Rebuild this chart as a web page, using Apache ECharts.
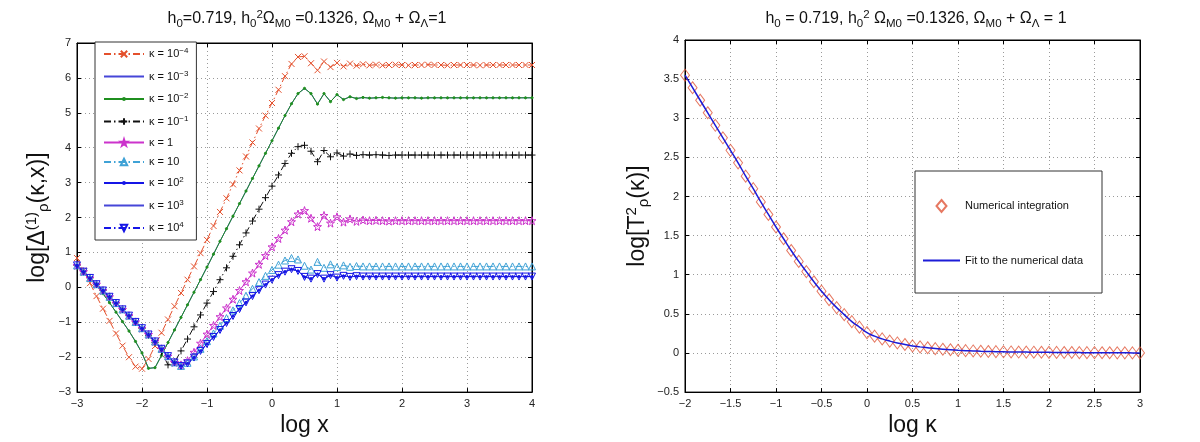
<!DOCTYPE html>
<html>
<head>
<meta charset="utf-8">
<script src="https://cdn.jsdelivr.net/npm/echarts@6/dist/echarts.min.js"></script>
<style>html,body{margin:0;padding:0;background:#fff}#c{width:1200px;height:442px}</style>
</head>
<body>
<div id="c"></div>
<script>
// ---------- DATA ----------
const logX = [-3.0,-2.9,-2.8,-2.7,-2.6,-2.5,-2.4,-2.3,-2.2,-2.1,
 -2.0,-1.9,-1.8,-1.7,-1.6,-1.5,-1.4,-1.3,-1.2,-1.1,
 -1.0,-0.9,-0.8,-0.7,-0.6,-0.5,-0.4,-0.3,-0.2,-0.1,
 0.0,0.1,0.2,0.3,0.4,0.5,0.6,0.7,0.8,0.9,
 1.0,1.1,1.2,1.3,1.4,1.5,1.6,1.7,1.8,1.9,
 2.0,2.1,2.2,2.3,2.4,2.5,2.6,2.7,2.8,2.9,
 3.0,3.1,3.2,3.3,3.4,3.5,3.6,3.7,3.8,3.9,
 4.0];
const kNames = ['κ = 10^−4','κ = 10^−3','κ = 10^−2','κ = 10^−1','κ = 1','κ = 10','κ = 10^2','κ = 10^3','κ = 10^4'];
// kappa = 1e-4
const dK4 = [0.84,0.48,0.12,-0.25,-0.61,-0.96,-1.32,-1.67,-2.00,-2.27,
 -2.33,-2.05,-1.68,-1.30,-0.92,-0.54,-0.16,0.22,0.60,0.98,
 1.36,1.76,2.16,2.55,2.95,3.35,3.75,4.15,4.55,4.92,
 5.28,5.66,6.05,6.40,6.60,6.62,6.42,6.22,6.47,6.31,
 6.43,6.33,6.41,6.35,6.39,6.36,6.38,6.36,6.37,6.38,
 6.37,6.36,6.37,6.37,6.38,6.37,6.37,6.36,6.37,6.37,
 6.37,6.37,6.36,6.37,6.37,6.37,6.37,6.37,6.37,6.37,
 6.37];
// kappa = 1e-2 (1e-3 lies underneath it)
const dK2 = [0.63,0.45,0.26,0.06,-0.18,-0.44,-0.71,-0.98,-1.25,-1.55,
 -1.88,-2.32,-2.30,-1.95,-1.58,-1.22,-0.86,-0.50,-0.14,0.22,
 0.58,0.95,1.32,1.68,2.04,2.40,2.76,3.12,3.48,3.84,
 4.20,4.56,4.92,5.26,5.55,5.70,5.55,5.25,5.55,5.32,
 5.52,5.38,5.46,5.41,5.44,5.42,5.43,5.44,5.43,5.42,
 5.43,5.43,5.43,5.42,5.43,5.43,5.43,5.43,5.43,5.43,
 5.43,5.43,5.43,5.43,5.43,5.43,5.43,5.43,5.43,5.43,
 5.43];
// kappa = 1e-1
const dK1 = [0.63,0.45,0.27,0.09,-0.09,-0.27,-0.45,-0.63,-0.81,-0.99,
 -1.18,-1.37,-1.58,-1.85,-2.22,-2.15,-1.82,-1.48,-1.13,-0.79,
 -0.45,-0.12,0.22,0.56,0.89,1.22,1.56,1.90,2.24,2.57,
 2.90,3.22,3.55,3.84,4.03,4.07,3.90,3.60,3.92,3.74,
 3.85,3.76,3.82,3.78,3.80,3.79,3.80,3.79,3.78,3.79,
 3.79,3.79,3.79,3.79,3.79,3.79,3.79,3.79,3.79,3.79,
 3.79,3.79,3.79,3.79,3.79,3.79,3.79,3.79,3.79,3.79,
 3.79];
// kappa = 1
const dK0 = [0.63,0.45,0.27,0.09,-0.09,-0.27,-0.45,-0.63,-0.81,-0.99,
 -1.17,-1.35,-1.55,-1.76,-1.97,-2.15,-2.22,-2.10,-1.86,-1.60,
 -1.34,-1.09,-0.84,-0.59,-0.34,-0.09,0.16,0.41,0.66,0.91,
 1.16,1.40,1.64,1.88,2.10,2.20,1.98,1.74,2.06,1.84,
 2.02,1.87,1.96,1.89,1.93,1.91,1.92,1.91,1.90,1.91,
 1.91,1.91,1.91,1.91,1.91,1.91,1.91,1.91,1.91,1.91,
 1.91,1.91,1.91,1.91,1.91,1.91,1.91,1.91,1.91,1.91,
 1.91];
// kappa = 10
const dK10 = [0.63,0.45,0.27,0.09,-0.09,-0.27,-0.45,-0.63,-0.81,-0.99,
 -1.17,-1.35,-1.55,-1.76,-1.97,-2.15,-2.25,-2.16,-1.98,-1.76,
 -1.54,-1.32,-1.10,-0.88,-0.66,-0.45,-0.24,-0.04,0.15,0.33,
 0.50,0.65,0.77,0.84,0.80,0.62,0.51,0.73,0.56,0.66,
 0.58,0.63,0.59,0.61,0.60,0.60,0.60,0.60,0.60,0.60,
 0.60,0.60,0.60,0.60,0.60,0.60,0.60,0.60,0.60,0.60,
 0.60,0.60,0.60,0.60,0.60,0.60,0.60,0.60,0.60,0.60,
 0.60];
// kappa = 1e2, 1e3, 1e4 (coincide)
const dK100 = [0.63,0.45,0.27,0.09,-0.09,-0.27,-0.45,-0.63,-0.81,-0.99,
 -1.17,-1.35,-1.55,-1.76,-1.97,-2.15,-2.25,-2.18,-2.01,-1.82,
 -1.62,-1.42,-1.22,-1.02,-0.82,-0.62,-0.43,-0.25,-0.08,0.08,
 0.22,0.35,0.45,0.52,0.47,0.30,0.25,0.38,0.25,0.35,
 0.28,0.33,0.30,0.32,0.31,0.31,0.31,0.31,0.31,0.31,
 0.31,0.31,0.31,0.31,0.31,0.31,0.31,0.31,0.31,0.31,
 0.31,0.31,0.31,0.31,0.31,0.31,0.31,0.31,0.31,0.31,
 0.31];
// right panel
const logK = [-2,-1.9167,-1.8333,-1.75,-1.6667,-1.5833,-1.5,-1.4167,-1.3333,-1.25,
 -1.1667,-1.0833,-1,-0.9167,-0.8333,-0.75,-0.6667,-0.5833,-0.5,-0.4167,
 -0.3333,-0.25,-0.1667,-0.0833,0,0.0833,0.1667,0.25,0.3333,0.4167,
 0.5,0.5833,0.6667,0.75,0.8333,0.9167,1,1.0833,1.1667,1.25,
 1.3333,1.4167,1.5,1.5833,1.6667,1.75,1.8333,1.9167,2,2.0833,
 2.1667,2.25,2.3333,2.4167,2.5,2.5833,2.6667,2.75,2.8333,2.9167,
 3];
const logT2 = [3.55,3.39,3.23,3.07,2.91,2.75,2.59,2.43,2.26,2.10,
 1.93,1.77,1.61,1.46,1.31,1.17,1.04,0.91,0.79,0.68,
 0.58,0.49,0.40,0.33,0.26,0.215,0.18,0.152,0.128,0.108,
 0.09,0.078,0.067,0.056,0.048,0.041,0.035,0.030,0.026,0.022,
 0.019,0.017,0.015,0.013,0.012,0.011,0.010,0.009,0.008,0.007,
 0.006,0.006,0.005,0.004,0.004,0.003,0.003,0.002,0.002,0.001,
 0.001];
const rightNames = ['Numerical integration','Fit to the numerical data'];
const leftX = [-3, 4, 1], leftY = [-3, 7, 1], rightX = [-2, 3, 0.5], rightY = [-0.5, 4, 0.5];

// ---------- CHART ----------
const FONT = '"Liberation Sans", Arial, sans-serif';
const chart = echarts.init(document.getElementById('c'), null, {renderer: 'canvas'});
const pts = (xs, ys) => xs.map((x, i) => [x, ys[i]]);
const fmt = v => String(v).replace('-', '−');
const DASHDOT = [7, 3, 1.5, 3];
const SYM_X = 'path://M0,0L10,10M10,0L0,10';
const SYM_PLUS = 'path://M5,0L5,10M0,5L10,5';
const SYM_STAR = 'path://M5,0L6.2,3.6L10,3.6L6.9,5.9L8.1,9.5L5,7.3L1.9,9.5L3.1,5.9L0,3.6L3.8,3.6Z';
const SYM_TUP = 'path://M5,0L10,9L0,9Z';
const SYM_TDN = 'path://M0,0L10,0L5,9Z';
const SYM_DIA = 'path://M5,0L10,6L5,12L0,6Z';
const SYM_DOT = 'path://M0,0M10,10M5,3.6A1.4,1.4,0,1,1,5,6.4A1.4,1.4,0,1,1,5,3.6Z';
const CLEAR = 'rgba(0,0,0,0)';

function lineSeries(name, ys, color, symbol, size, dash, mode) {
  // mode: 'fill' | 'hollow' | 'none'
  return {
    type: 'line', name, data: pts(logX, ys), xAxisIndex: 0, yAxisIndex: 0,
    symbol: mode === 'none' ? 'circle' : symbol, symbolSize: size, showSymbol: mode !== 'none',
    lineStyle: {color, width: 1, type: dash},
    itemStyle: {color: mode === 'fill' ? color : CLEAR, borderColor: mode === 'none' ? CLEAR : color, borderWidth: mode === 'none' ? 0 : 1},
    emphasis: {disabled: true}, z: 2
  };
}
const RED = '#e4502c', GREEN = '#1f8f1f', BLACK = '#111', MAG = '#cc33cc', CYAN = '#3fa2d6', BLUE = '#1515e6', BLUE2 = '#4646d8';
const leftSeries = [
  lineSeries(kNames[0], dK4, RED, SYM_X, 6, DASHDOT, 'fill'),
  lineSeries(kNames[1], dK2, BLUE2, 'none', 0, 'solid', 'none'),
  lineSeries(kNames[2], dK2, GREEN, SYM_DOT, 8, 'solid', 'fill'),
  lineSeries(kNames[3], dK1, BLACK, SYM_PLUS, 7, DASHDOT, 'fill'),
  lineSeries(kNames[4], dK0, MAG, SYM_STAR, 8, 'solid', 'hollow'),
  lineSeries(kNames[5], dK10, CYAN, SYM_TUP, 7, DASHDOT, 'hollow'),
  lineSeries(kNames[6], dK100, BLUE, SYM_DOT, 8, 'solid', 'fill'),
  lineSeries(kNames[7], dK100, BLUE2, 'none', 0, 'solid', 'none'),
  lineSeries(kNames[8], dK100, BLUE, SYM_TDN, 7, DASHDOT, 'hollow')
];
const rightSeries = [
  {type: 'scatter', name: rightNames[0], data: pts(logK, logT2), xAxisIndex: 2, yAxisIndex: 2,
   symbol: SYM_DIA, symbolSize: [9, 12],
   itemStyle: {color: CLEAR, borderColor: '#e0563a', borderWidth: 1}, emphasis: {disabled: true}},
  {type: 'line', name: rightNames[1], data: pts(logK, logT2), xAxisIndex: 2, yAxisIndex: 2,
   symbol: 'circle', showSymbol: false, smooth: true, lineStyle: {color: '#1c1cd8', width: 1.5},
   itemStyle: {color: CLEAR, borderColor: CLEAR, borderWidth: 0}, emphasis: {disabled: true}, z: 3}
];

const labelStyle = {fontSize: 11, color: '#222', fontFamily: FONT};
const split = {show: true, lineStyle: {color: '#9a9a9a', type: [1, 3], width: 1}};
function axis(grid, rng, pos, main, name, nameGap, rich) {
  const a = {
    type: 'value', gridIndex: grid, min: rng[0], max: rng[1], interval: rng[2], position: pos,
    axisLine: {show: true, onZero: false, lineStyle: {color: '#000', width: 1}},
    axisTick: {show: true, inside: true, length: 4, lineStyle: {color: '#000'}},
    axisLabel: {show: main, formatter: fmt, margin: 6, ...labelStyle},
    splitLine: main ? split : {show: false}
  };
  if (name) {
    a.name = name; a.nameLocation = 'middle'; a.nameGap = nameGap;
    a.nameTextStyle = {fontSize: 23, color: '#111', fontFamily: FONT, rich};
  }
  return a;
}
const axRich = {
  sup: {fontSize: 15, color: '#111', fontFamily: FONT, padding: [0, 0, 12, 0]},
  sub: {fontSize: 15, color: '#111', fontFamily: FONT, padding: [12, 0, 0, 0]}
};
const tRich = {
  n: {fontSize: 16, color: '#111', fontFamily: FONT, fontWeight: 'normal'},
  sub: {fontSize: 11.5, color: '#111', fontFamily: FONT, fontWeight: 'normal', padding: [10, 0, 0, 0]},
  sup: {fontSize: 11.5, color: '#111', fontFamily: FONT, fontWeight: 'normal', padding: [0, 0, 9, 0]}
};
const legRich = {
  n: {fontSize: 11, color: '#111', fontFamily: FONT, lineHeight: 14},
  sup: {fontSize: 8, color: '#111', fontFamily: FONT, lineHeight: 10, padding: [0, 0, 6, 0]}
};

const option = {
  animation: false,
  backgroundColor: '#fff',
  title: [
    {text: '{n|h}{sub|0}{n|=0.719, h}{sub|0}{sup|2}{n|Ω}{sub|M0}{n| =0.1326, Ω}{sub|M0}{n| + Ω}{sub|Λ}{n|=1}',
     left: 302, top: 3, textAlign: 'center', textStyle: {fontWeight: 'normal', rich: tRich}},
    {text: '{n|h}{sub|0}{n| = 0.719, h}{sub|0}{sup|2}{n| Ω}{sub|M0}{n| =0.1326, Ω}{sub|M0}{n| + Ω}{sub|Λ}{n| = 1}',
     left: 911, top: 3, textAlign: 'center', textStyle: {fontWeight: 'normal', rich: tRich}}
  ],
  grid: [
    {left: 77, right: 668, top: 43, bottom: 49, show: true, borderColor: '#000', borderWidth: 1, backgroundColor: '#fff'},
    {left: 685, right: 60, top: 40, bottom: 48.5, show: true, borderColor: '#000', borderWidth: 1, backgroundColor: '#fff'}
  ],
  xAxis: [
    axis(0, leftX, 'bottom', true, 'log x', 17),
    axis(0, leftX, 'top', false),
    axis(1, rightX, 'bottom', true, 'log κ', 17),
    axis(1, rightX, 'top', false)
  ],
  yAxis: [
    axis(0, leftY, 'left', true, 'log[Δ{sup|(1)}{sub|ρ}(κ,x)]', 26, axRich),
    axis(0, leftY, 'right', false),
    axis(1, rightY, 'left', true, 'log[T{sup|2}{sub|ρ}(κ)]', 34, axRich),
    axis(1, rightY, 'right', false)
  ],
  legend: [
    {data: kNames, orient: 'vertical', left: 95, top: 42, itemWidth: 40, itemHeight: 8, itemGap: 8.5,
     padding: [5, 8, 5, 8], backgroundColor: '#fff', borderColor: '#333', borderWidth: 1,
     selectedMode: false, textStyle: {rich: legRich, fontSize: 11, fontFamily: FONT},
     formatter: nm => { const p = nm.split('^'); return '{n|' + p[0] + '}' + (p[1] ? '{sup|' + p[1] + '}' : ''); }},
    {data: rightNames, orient: 'vertical', left: 915, top: 171, itemWidth: 37, itemHeight: 12, itemGap: 42,
     padding: [28, 19, 27, 7], backgroundColor: '#fff', borderColor: '#333', borderWidth: 1,
     selectedMode: false, textStyle: {fontSize: 11, color: '#111', fontFamily: FONT}}
  ],
  series: leftSeries.concat(rightSeries)
};
chart.setOption(option);
</script>
</body>
</html>
